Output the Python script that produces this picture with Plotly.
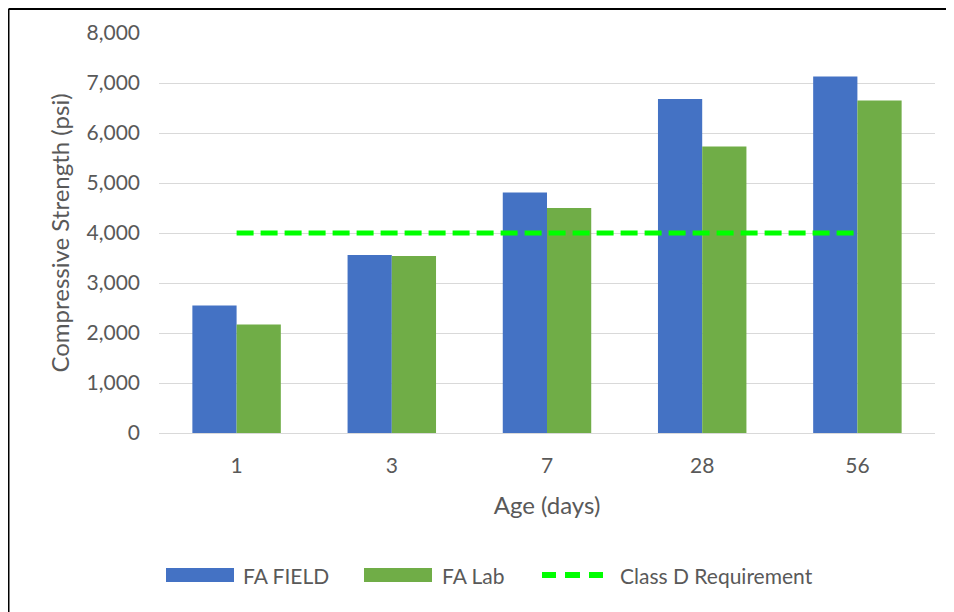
import plotly.graph_objects as go

ages = ["1", "3", "7", "28", "56"]
fa_field = [2550, 3560, 4810, 6680, 7130]
fa_lab = [2170, 3540, 4500, 5730, 6650]
class_d = [4000, 4000, 4000, 4000, 4000]
series_names = ["FA FIELD", "FA Lab", "Class D Requirement"]
series_colors = ["#4472C4", "#70AD47", "#00FF00"]

font_family = "Lato, 'Open Sans', sans-serif"
text_col = "#595959"

# plot-area geometry in page pixels (figure sits at an 8px body offset)
PX0, PW, PY0, PH = 159, 776, 433, 400


def px(x):
    return (x - PX0) / PW


def py(y):
    return (PY0 - y) / PH


fig = go.Figure()
fig.add_trace(go.Bar(x=ages, y=fa_field, name=series_names[0],
                     marker=dict(color=series_colors[0], line=dict(width=0))))
fig.add_trace(go.Bar(x=ages, y=fa_lab, name=series_names[1],
                     marker=dict(color=series_colors[1], line=dict(width=0))))
fig.add_trace(go.Scatter(x=ages, y=class_d, name=series_names[2], mode="lines",
                         line=dict(color=series_colors[2], width=5, dash="17px,7px")))

shapes = []
# outer border (top and left edges visible)
shapes.append(dict(type="line", xref="paper", yref="paper", x0=px(8.5), x1=px(990),
                   y0=py(9), y1=py(9), line=dict(color="black", width=2)))
shapes.append(dict(type="line", xref="paper", yref="paper", x0=px(8.5), x1=px(8.5),
                   y0=py(9), y1=py(640), line=dict(color="black", width=2)))

# legend drawn by hand (wide swatches like the original)
leg_y = 575
shapes.append(dict(type="rect", xref="paper", yref="paper", x0=px(166), x1=px(234),
                   y0=py(582), y1=py(568), fillcolor=series_colors[0], line=dict(width=0)))
shapes.append(dict(type="rect", xref="paper", yref="paper", x0=px(364), x1=px(432),
                   y0=py(582), y1=py(568), fillcolor=series_colors[1], line=dict(width=0)))
for a, b in [(542, 556), (565, 580), (589, 603)]:
    shapes.append(dict(type="line", xref="paper", yref="paper", x0=px(a), x1=px(b),
                       y0=py(leg_y), y1=py(leg_y),
                       line=dict(color=series_colors[2], width=6)))

annotations = []
for name, xl in zip(series_names, [241, 440, 618]):
    annotations.append(dict(text=name, xref="paper", yref="paper", x=px(xl), y=py(leg_y),
                            xanchor="left", yanchor="middle", showarrow=False,
                            font=dict(size=21, color=text_col, family=font_family)))

fig.update_layout(
    width=946, height=604,
    margin=dict(l=151, r=19, t=25, b=179),
    paper_bgcolor="white", plot_bgcolor="white",
    barmode="group", bargap=0.43, bargroupgap=0,
    font=dict(family=font_family, size=20, color=text_col),
    showlegend=False,
    shapes=shapes,
    annotations=annotations,
    xaxis=dict(type="category", showgrid=False, ticks="", showline=False,
               ticklabelstandoff=18,
               title=dict(text="Age (days)", font=dict(size=24, color=text_col), standoff=21),
               tickfont=dict(size=21, color=text_col)),
    yaxis=dict(range=[0, 8000], dtick=1000, tickformat=",", showgrid=True,
               gridcolor="#d9d9d9", gridwidth=1, zeroline=True, zerolinecolor="#d9d9d9",
               zerolinewidth=1, ticks="", showline=False,
               ticklabelstandoff=18,
               title=dict(text="Compressive Strength (psi)", font=dict(size=24, color=text_col), standoff=10),
               tickfont=dict(size=21, color=text_col)),
)

fig.write_html("out.html")
